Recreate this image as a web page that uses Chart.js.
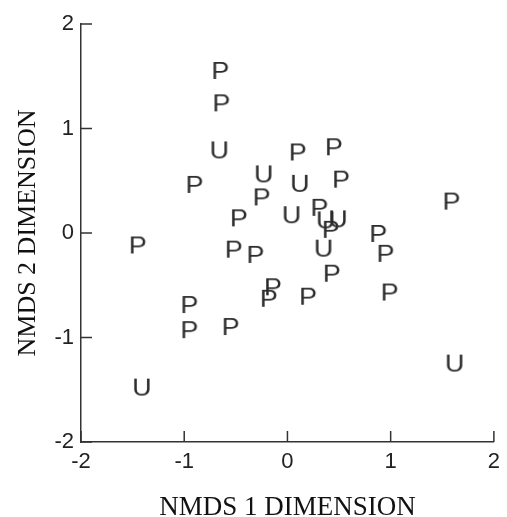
<!DOCTYPE html>
<html>
<head>
<meta charset="utf-8">
<script src="https://cdn.jsdelivr.net/npm/chart.js@4"></script>
<style>
  html, body { margin: 0; padding: 0; background: #fff; }
  #wrap { width: 507px; height: 517px; }
</style>
</head>
<body>
<div id="wrap"><canvas id="myChart"></canvas></div>
<script>
// NMDS scores
const pX = [-0.65, -0.64, -0.90, -0.25, -0.47, -1.45, -0.52, -0.31, 0.10, 0.45, 0.52, 0.31,
            0.42, 0.88, 0.95, 1.59, 0.43, -0.14, -0.18, 0.20, 0.99, -0.95, -0.95, -0.55];
const pY = [1.56, 1.25, 0.47, 0.35, 0.15, -0.11, -0.15, -0.20, 0.78, 0.83, 0.52, 0.25,
            0.04, 0.00, -0.19, 0.31, -0.38, -0.51, -0.62, -0.60, -0.56, -0.68, -0.92, -0.89];
const uX = [-0.66, -0.23, 0.12, 0.04, 0.37, 0.49, 0.35, -1.41, 1.62];
const uY = [0.80, 0.57, 0.48, 0.18, 0.13, 0.14, -0.14, -1.47, -1.24];
const axisTicks = [-2, -1, 0, 1, 2];

const toPoints = (xs, ys) => xs.map((x, i) => ({ x: x, y: ys[i] }));

// letter used as the marker
const letterMarker = (ch) => {
  const c = document.createElement('canvas');
  c.width = 30;
  c.height = 30;
  const g = c.getContext('2d');
  g.fillStyle = '#2b2b2b';
  g.font = '24px "Liberation Sans", Arial, sans-serif';
  g.textAlign = 'center';
  g.textBaseline = 'alphabetic';
  g.translate(15, 0);
  g.scale(1.12, 1);
  g.fillText(ch, 0, 15 + 8.6);
  return c;
};

// short tick marks pointing into the plot
const insideTicks = {
  id: 'insideTicks',
  afterDraw(chart) {
    const ctx = chart.ctx;
    const area = chart.chartArea;
    const xs = chart.scales.x, ys = chart.scales.y;
    ctx.save();
    ctx.strokeStyle = '#333';
    ctx.lineWidth = 1.5;
    ctx.beginPath();
    xs.ticks.forEach(t => {
      const px = xs.getPixelForValue(t.value);
      ctx.moveTo(px, area.bottom);
      ctx.lineTo(px, area.bottom - 11);
    });
    ys.ticks.forEach(t => {
      const py = ys.getPixelForValue(t.value);
      ctx.moveTo(area.left, py);
      ctx.lineTo(area.left + 11, py);
    });
    ctx.stroke();
    ctx.restore();
  }
};

const tickFont = { family: '"Liberation Sans", Arial, sans-serif', size: 22 };
const serif = '"Liberation Serif", "Times New Roman", serif';

new Chart(document.getElementById('myChart'), {
  type: 'scatter',
  data: {
    datasets: [
      { label: 'P', data: toPoints(pX, pY), pointStyle: letterMarker('P'), pointRadius: 10 },
      { label: 'U', data: toPoints(uX, uY), pointStyle: letterMarker('U'), pointRadius: 10 }
    ]
  },
  options: {
    responsive: true,
    maintainAspectRatio: false,
    animation: false,
    layout: { padding: { top: 24, right: 10, left: 0, bottom: 0 } },
    plugins: { legend: { display: false }, tooltip: { enabled: false } },
    scales: {
      x: {
        type: 'linear',
        min: -2,
        max: 2,
        afterBuildTicks: (s) => { s.ticks = axisTicks.map(v => ({ value: v })); },
        afterFit: (s) => { s.height = 75; },
        grid: { display: false, drawTicks: false },
        border: { display: true, color: '#333', width: 1.5 },
        ticks: { font: tickFont, color: '#222', padding: 7, maxRotation: 0 },
        title: { display: true, text: 'NMDS 1 DIMENSION', font: { family: serif, size: 27, lineHeight: 1 }, color: '#111', padding: { top: 0, bottom: -4 } }
      },
      y: {
        type: 'linear',
        min: -2,
        max: 2,
        afterBuildTicks: (s) => { s.ticks = axisTicks.map(v => ({ value: v })); },
        afterFit: (s) => { s.width = 81; },
        grid: { display: false, drawTicks: false },
        border: { display: true, color: '#333', width: 1.5 },
        ticks: { font: tickFont, color: '#222', padding: 7 },
        title: { display: true, text: 'NMDS 2 DIMENSION', font: { family: serif, size: 26, lineHeight: 1 }, color: '#111', padding: { top: 15, bottom: 0 } }
      }
    }
  },
  plugins: [insideTicks]
});
</script>
</body>
</html>
